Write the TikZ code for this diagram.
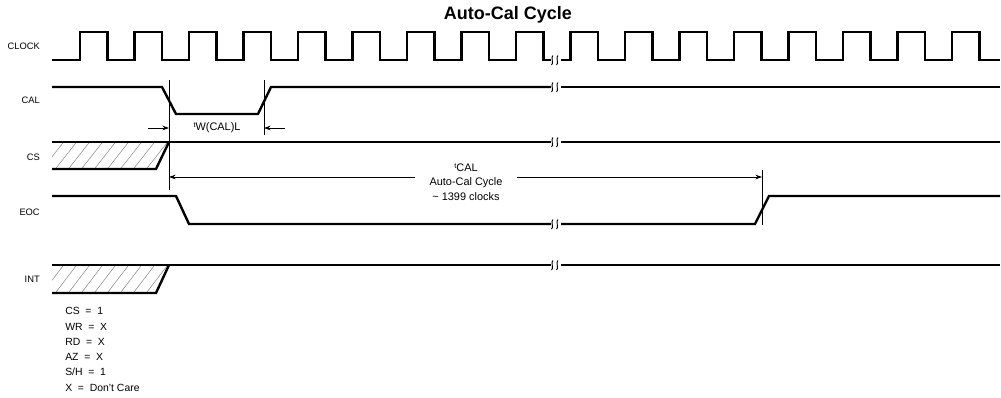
\documentclass[tikz,border=0pt]{standalone}
\usepackage{fontspec}
\setmainfont{Liberation Sans}
\usetikzlibrary{arrows.meta}
\tikzset{
  sig/.style={line width=1.8pt, line join=miter},
  thinln/.style={line width=0.5pt},
  dim/.style={line width=0.6pt, -{Stealth[length=5pt,width=3.5pt]}},
  hatch/.style={line width=0.35pt, gray},
  lbl/.style={anchor=east, font=\fontsize{7}{8}\selectfont, inner sep=0pt},
  note/.style={anchor=west, font=\fontsize{7.8}{8}\selectfont, inner sep=0pt},
  dimtxt/.style={font=\fontsize{8.2}{9}\selectfont, inner sep=0pt},
  brk/.style={line width=0.7pt}
}
\newcommand{\brkmark}[2]{%
  \draw[brk] (#1+0.5,#2+5) .. controls (#1+3,#2+4.5) and (#1-0.5,#2-4) .. (#1+2,#2-4.5);
  \draw[brk] (#1+5.5,#2+5) .. controls (#1+8,#2+4.5) and (#1+4.5,#2-4) .. (#1+7,#2-4.5);
}
\begin{document}
\begin{tikzpicture}[x=0.75pt,y=-0.75pt]
\useasboundingbox (0,0) rectangle (1001,397);
% title
\node[font=\bfseries\fontsize{13.5}{15}\selectfont, inner sep=0pt] (title) at (508,15) {Auto-Cal Cycle};
% labels
\node[lbl] (lclk) at (40,46) {CLOCK};
\node[lbl] (lcal) at (40,100) {CAL};
\node[lbl] (lcs) at (40,157) {CS};
\node[lbl] (leoc) at (40,212) {EOC};
\node[lbl] (lint) at (40,279) {INT};
% clock
\draw[sig] (52,60) -- (80,60)
  \foreach \k in {0,...,8} { -- ({80+54.5*\k},60) -- ({80+54.5*\k},32) -- ({107.5+54.5*\k},32) -- ({107.5+54.5*\k},60) } -- (551,60);
\draw[sig] (561,60)
  \foreach \k in {9,...,16} { -- ({80+54.5*\k},60) -- ({80+54.5*\k},32) -- ({107.5+54.5*\k},32) -- ({107.5+54.5*\k},60) } -- (1000,60);
\brkmark{551}{60}
% CAL
\draw[sig] (52,87) -- (162,87) -- (176,114) -- (258,114) -- (271,87) -- (551,87);
\draw[sig] (561,87) -- (1000,87);
\brkmark{551}{87}
% CS hatch
\begin{scope}
  \clip (52,142) -- (169,142) -- (156,169) -- (52,169) -- cycle;
  \foreach \i in {0,...,11} { \draw[hatch] ({40+13*\i},172) -- ({66+13*\i},139); }
\end{scope}
\draw[sig] (52,142) -- (551,142);
\draw[sig] (561,142) -- (1000,142);
\draw[sig] (52,169) -- (156,169) -- (169,142);
\brkmark{551}{142}
% EOC
\draw[sig] (52,196) -- (176,196) -- (189,224) -- (551,224);
\draw[sig] (561,224) -- (755,224) -- (769,196) -- (1000,196);
\brkmark{551}{224}
% INT hatch
\begin{scope}
  \clip (52,265) -- (169,265) -- (156,293) -- (52,293) -- cycle;
  \foreach \i in {0,...,11} { \draw[hatch] ({40+13*\i},296) -- ({66+13*\i},262); }
\end{scope}
\draw[sig] (52,265) -- (551,265);
\draw[sig] (561,265) -- (1000,265);
\draw[sig] (52,293) -- (156,293) -- (169,265);
\brkmark{551}{265}
% reference lines
\coordinate (v1t) at (169,80); \coordinate (v1b) at (169,190);
\coordinate (v2t) at (264,80); \coordinate (v2b) at (264,135);
\coordinate (v3t) at (762,170); \coordinate (v3b) at (762,225);
\draw[thinln] (v1t) -- (v1b);
\draw[thinln] (v2t) -- (v2b);
\draw[thinln] (v3t) -- (v3b);
% tW(CAL)L
\coordinate (a1s) at (148,128); \coordinate (a1e) at (169,128);
\coordinate (a2s) at (285,128); \coordinate (a2e) at (264,128);
\draw[dim] (a1s) -- (a1e);
\draw[dim] (a2s) -- (a2e);
\node[dimtxt] (tw) at (217,128) {\raisebox{2.5pt}{\fontsize{5.5}{5}\selectfont t}W(CAL)L};
% tCAL
\coordinate (c1) at (169,177); \coordinate (c2) at (762,177);
\coordinate (g1) at (415,177); \coordinate (g2) at (517,177);
\draw[dim] (g1) -- (c1);
\draw[dim] (g2) -- (c2);
\node[dimtxt] (tcal) at (466,168) {\raisebox{2.5pt}{\fontsize{5.5}{5}\selectfont t}CAL};
\node[dimtxt] (acc) at (466,183) {Auto-Cal Cycle};
\node[dimtxt] (clk) at (466,197) {\textasciitilde\ 1399 clocks};
% notes
\node[note] (n1) at (65,311) {CS\ \ =\ \ 1};
\node[note] (n2) at (65,327) {WR\ \ =\ \ X};
\node[note] (n3) at (65,342) {RD\ \ =\ \ X};
\node[note] (n4) at (65,357) {AZ\ \ =\ \ X};
\node[note] (n5) at (65,372) {S/H\ \ =\ \ 1};
\node[note] (n6) at (65,388) {X\ \ =\ \ Don't Care};
\end{tikzpicture}
\end{document}
